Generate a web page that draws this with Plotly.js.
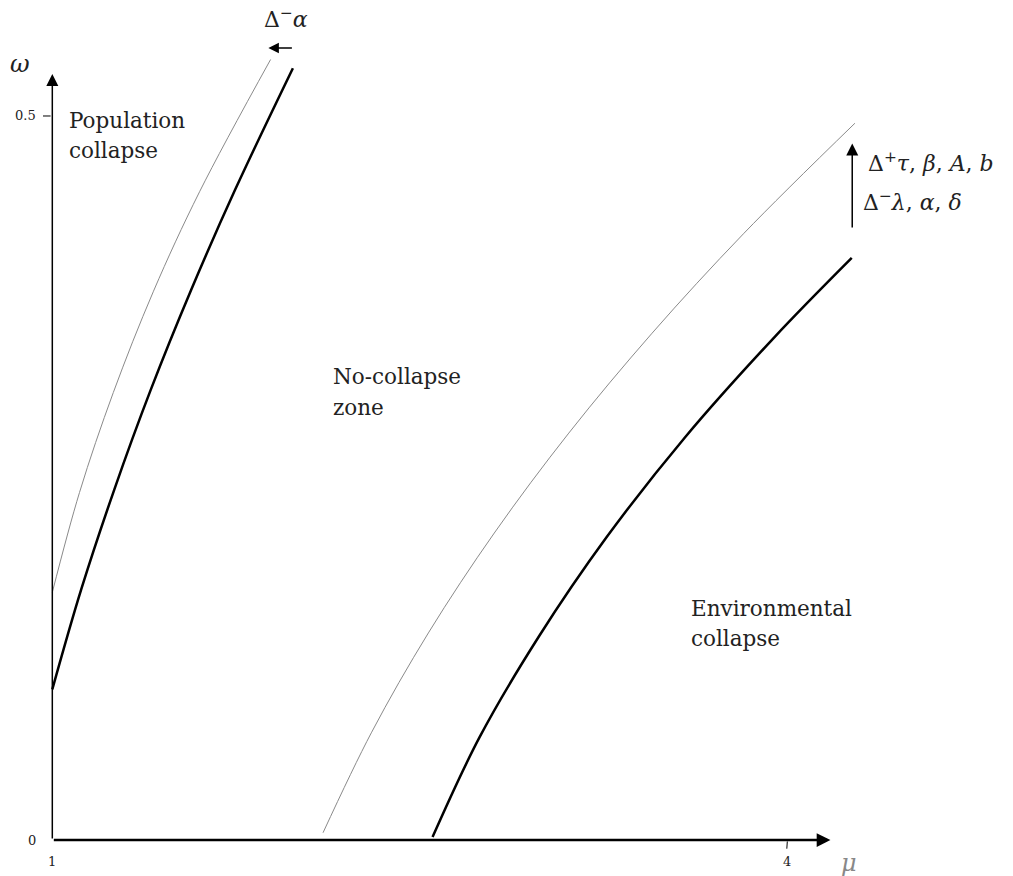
<!DOCTYPE html>
<html>
<head>
<meta charset="utf-8">
<script src="https://cdn.plot.ly/plotly-3.0.1.min.js"></script>
<style>
  body { margin: 0; background: #fff; }
  #chart { width: 1013px; height: 876px; }
</style>
</head>
<body>
<div id="chart"></div>
<script>
// Boundary curves (mu, omega)
const leftThinMu = [1.0, 1.111, 1.249, 1.413, 1.602, 1.891];
const leftThinOmega = [0.171, 0.240, 0.309, 0.379, 0.448, 0.539];

const leftThickMu = [1.0, 1.118, 1.253, 1.402, 1.567, 1.746, 1.982];
const leftThickOmega = [0.104, 0.173, 0.242, 0.311, 0.380, 0.449, 0.533];

const rightThinMu = [2.105, 2.302, 2.535, 2.804, 3.108, 3.448, 3.823, 4.276];
const rightThinOmega = [0.005, 0.074, 0.143, 0.212, 0.281, 0.350, 0.419, 0.495];

const rightThickMu = [2.552, 2.744, 2.984, 3.262, 3.582, 3.946, 4.263];
const rightThickOmega = [0.002, 0.071, 0.140, 0.209, 0.278, 0.347, 0.402];

// tick labels
const xTicks = [1, 4];
const yTicks = [0, 0.5];
const xTickText = ['1', '4'];
const yTickText = ['0', '0.5'];

const serif = 'DejaVu Serif';

function curve(x, y, color, width) {
  return {
    x: x, y: y, mode: 'lines', hoverinfo: 'skip', showlegend: false,
    line: { color: color, width: width, shape: 'spline', smoothing: 1 }
  };
}

const traces = [
  curve(leftThinMu, leftThinOmega, '#8a8a8a', 1),
  curve(leftThickMu, leftThickOmega, '#000', 2.5),
  curve(rightThinMu, rightThinOmega, '#8a8a8a', 1),
  curve(rightThickMu, rightThickOmega, '#000', 2.5)
];

function label(x, y, text, size, color) {
  return {
    x: x, y: y, xref: 'x', yref: 'y', text: text, showarrow: false,
    xanchor: 'left', yanchor: 'middle',
    font: { family: serif, size: size, color: color || '#222' }
  };
}

function arrow(x, y, ax, ay, width, size) {
  return {
    x: x, y: y, ax: ax, ay: ay, xref: 'x', yref: 'y', axref: 'x', ayref: 'y',
    text: '', showarrow: true, arrowhead: 2, arrowsize: size || 1.1,
    arrowwidth: width, arrowcolor: '#000', standoff: 0, startstandoff: 0
  };
}

const annotations = [
  // axes
  arrow(4.176, 0, 1, 0, 2.5, 1.1),
  arrow(1, 0.529, 1, 0, 1.5, 1.6),
  // axis names
  label(0.82, 0.536, '<i>ω</i>', 24),
  label(4.21, -0.016, '<i>μ</i>', 24, '#888'),
  // regions
  label(1.058, 0.497, 'Population', 21.5),
  label(1.058, 0.476, 'collapse', 21.5),
  label(2.136, 0.320, 'No-collapse', 21.5),
  label(2.136, 0.299, 'zone', 21.5),
  label(3.600, 0.160, 'Environmental', 21.5),
  label(3.600, 0.139, 'collapse', 21.5),
  // parameter shifts
  label(4.32, 0.468, 'Δ<sup>+</sup><i>τ</i>, <i>β</i>, <i>A</i>, <i>b</i>', 22),
  label(4.30, 0.441, 'Δ<sup>−</sup><i>λ</i>, <i>α</i>, <i>δ</i>', 22),
  label(1.855, 0.568, 'Δ<sup>−</sup><i>α</i>', 22),
  arrow(4.265, 0.481, 4.265, 0.422, 1.5, 1.6),
  arrow(1.882, 0.547, 1.984, 0.547, 1.5, 1.4)
];

// tick labels
xTicks.forEach((v, i) => {
  annotations.push({
    x: v, y: -0.015, xref: 'x', yref: 'y', text: xTickText[i], showarrow: false,
    xanchor: 'center', yanchor: 'middle', font: { family: serif, size: 13, color: '#222' }
  });
});
yTicks.forEach((v, i) => {
  annotations.push({
    x: 0.94, y: v, xref: 'x', yref: 'y', text: yTickText[i], showarrow: false,
    xanchor: 'right', yanchor: 'middle', font: { family: serif, size: 13, color: '#222' }
  });
});

const shapes = [
  // small tick marks
  { type: 'line', xref: 'x', yref: 'y', x0: 0.962, x1: 0.993, y0: 0.5, y1: 0.5, line: { color: '#000', width: 1 } },
  { type: 'line', xref: 'x', yref: 'y', x0: 4.0, x1: 3.998, y0: -0.001, y1: -0.006, line: { color: '#000', width: 1 } }
];

const layout = {
  width: 1013, height: 876,
  margin: { l: 0, r: 0, t: 0, b: 0, pad: 0 },
  paper_bgcolor: '#fff', plot_bgcolor: '#fff',
  showlegend: false,
  xaxis: { range: [0.7865, 4.9212], visible: false, fixedrange: true },
  yaxis: { range: [-0.02486, 0.5801], visible: false, fixedrange: true },
  annotations: annotations,
  shapes: shapes
};

Plotly.newPlot('chart', traces, layout, { staticPlot: true });
</script>
</body>
</html>
